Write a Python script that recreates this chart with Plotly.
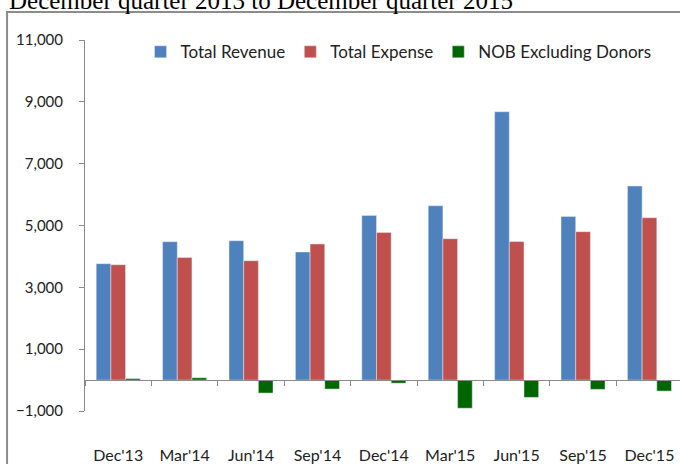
import plotly.graph_objects as go

categories = ["Dec'13", "Mar'14", "Jun'14", "Sep'14", "Dec'14", "Mar'15", "Jun'15", "Sep'15", "Dec'15"]
total_revenue = [3765, 4476, 4508, 4143, 5327, 5640, 8680, 5294, 6277]
total_expense = [3732, 3968, 3862, 4402, 4777, 4573, 4480, 4800, 5252]
nob_excl_donors = [50, 75, -420, -290, -100, -910, -560, -300, -355]
y_ticks = [-1000, 1000, 3000, 5000, 7000, 9000, 11000]
title_text = "December quarter 2013 to December quarter 2015"

font_fam = "Lato, Liberation Sans, Arial, sans-serif"
axis_grey = "#8a8a8a"

fig = go.Figure()
fig.add_trace(go.Bar(name="Total Revenue", x=categories, y=total_revenue, marker_color="#4F81BD"))
fig.add_trace(go.Bar(name="Total Expense", x=categories, y=total_expense, marker_color="#C0504D"))
fig.add_trace(go.Bar(name="NOB Excluding Donors", x=categories, y=nob_excl_donors, marker_color="#006600"))

fig.update_layout(
    width=680, height=464,
    margin=dict(l=85, r=0, t=40, b=53),
    paper_bgcolor="white", plot_bgcolor="white",
    barmode="group", bargap=0.337, bargroupgap=0,
    font=dict(family=font_fam, size=15, color="#222"),
    showlegend=True,
    legend=dict(orientation="h", x=0.527, y=0.967, xanchor="center", yanchor="middle",
                font=dict(size=17, color="#222"), bgcolor="rgba(0,0,0,0)"),
    xaxis=dict(
        type="category", range=[-0.5, 8.46],
        anchor="free", position=1/12,
        showline=True, linecolor=axis_grey, linewidth=1,
        ticks="outside", tickson="boundaries", ticklen=5, tickcolor=axis_grey,
        ticklabelstandoff=61, showgrid=False, zeroline=False,
        tickfont=dict(size=16, color="#222"),
    ),
    yaxis=dict(
        range=[-1000, 11000], tickvals=y_ticks, tickformat=",",
        showline=True, linecolor=axis_grey, linewidth=1,
        ticks="outside", ticklen=5, tickcolor=axis_grey, ticklabelstandoff=13,
        showgrid=False, zeroline=False,
        tickfont=dict(size=15, color="#222"),
    ),
    annotations=[dict(
        text=title_text, xref="paper", yref="paper", x=-0.131, y=1.106,
        xanchor="left", yanchor="middle", showarrow=False,
        font=dict(family="Liberation Serif, Times New Roman, serif", size=25, color="#000"),
    )],
    shapes=[dict(
        type="rect", xref="paper", yref="paper", x0=-0.131, x1=1.1, y0=-0.3, y1=1.0755,
        line=dict(color="#8c8c8c", width=2), fillcolor="rgba(0,0,0,0)", layer="below",
    )],
)

fig.write_html("out.html", config={"displayModeBar": False},
               post_script="document.body.style.margin='0';document.body.style.overflow='hidden';")
